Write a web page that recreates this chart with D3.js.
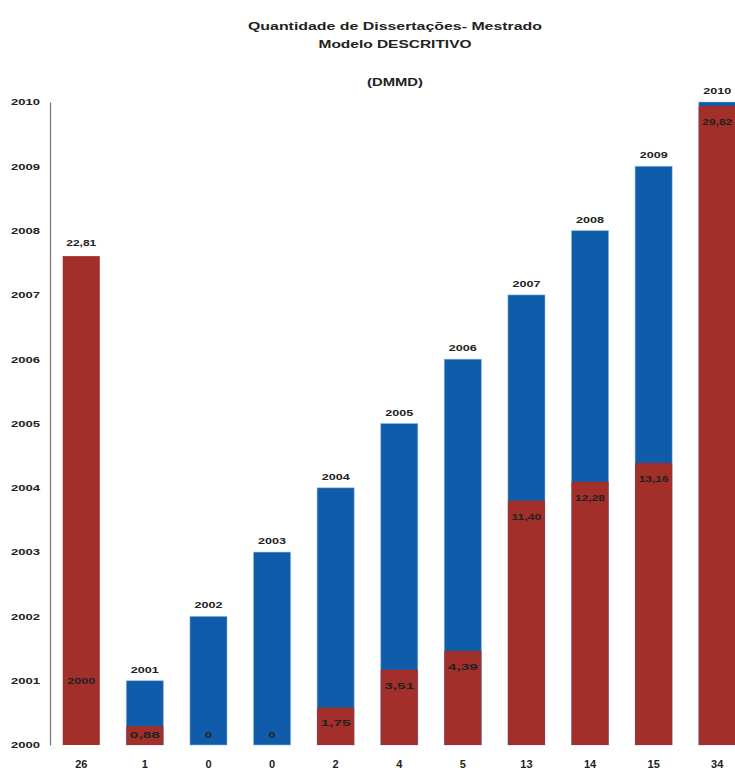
<!DOCTYPE html>
<html>
<head>
<meta charset="utf-8">
<script src="https://cdn.jsdelivr.net/npm/d3@7"></script>
<style>
  html, body { margin: 0; padding: 0; background: #fff; overflow: hidden; }
  text { font-family: "Liberation Sans", Arial, sans-serif; font-weight: bold; fill: #222; }
</style>
</head>
<body>
<svg id="chart" width="735" height="771"></svg>
<script>
// Data
const counts = ["26", "1", "0", "0", "2", "4", "5", "13", "14", "15", "34"];
const years = [2000, 2001, 2002, 2003, 2004, 2005, 2006, 2007, 2008, 2009, 2010];
const percents = [22.81, 0.88, 0, 0, 1.75, 3.51, 4.39, 11.40, 12.28, 13.16, 29.82];
const yTicks = [2000, 2001, 2002, 2003, 2004, 2005, 2006, 2007, 2008, 2009, 2010];
const titleLines = ["Quantidade de Dissertações- Mestrado", "Modelo DESCRITIVO", "(DMMD)"];

const fmt = v => v === 0 ? "0" : d3.format(".2f")(v).replace(".", ",");

const svg = d3.select("#chart");
const blue = "#0e5caa";
const red = "#a32f2b";

const y = d3.scaleLinear().domain([2000, 2010]).range([745, 102]);
const yPct = d3.scaleLinear().domain([0, 30]).range([745, 102]);
const x = d3.scaleBand().domain(d3.range(counts.length)).range([50, 748.5])
  .paddingInner(0.417).paddingOuter(0.2);

// Title
const titleY = [30, 48, 86];
svg.selectAll("text.title").data(titleLines).join("text")
  .attr("class", "title")
  .attr("x", 395).attr("y", (d, i) => titleY[i])
  .attr("text-anchor", "middle")
  .attr("font-size", 11.5)
  .attr("fill", "#1a1a1a")
  .attr("textLength", (d, i) => [294, 153, 56][i])
  .attr("lengthAdjust", "spacingAndGlyphs")
  .text(d => d);

// Y axis
const yAxis = d3.axisLeft(y).tickValues(yTicks).tickFormat(d3.format("d")).tickSize(0).tickPadding(10);
const gy = svg.append("g").attr("transform", "translate(50,0)").call(yAxis);
gy.select(".domain").attr("stroke", "#777").attr("stroke-width", 1.2);
gy.selectAll("text").attr("font-size", 9).attr("fill", "#333")
  .attr("textLength", 29).attr("lengthAdjust", "spacingAndGlyphs");

const data = years.map((yr, i) => ({ i, yr, pct: percents[i], count: counts[i] }));

// Blue bars (year)
svg.selectAll("rect.blue").data(data).join("rect")
  .attr("class", "blue")
  .attr("x", d => x(d.i)).attr("width", x.bandwidth())
  .attr("y", d => y(d.yr)).attr("height", d => y(2000) - y(d.yr))
  .attr("fill", blue)
  .attr("stroke", "#8fc0ea").attr("stroke-opacity", 0.5).attr("stroke-width", 1);

// Red bars (percent)
svg.selectAll("rect.red").data(data).join("rect")
  .attr("class", "red")
  .attr("x", d => x(d.i)).attr("width", x.bandwidth())
  .attr("y", d => yPct(d.pct)).attr("height", d => yPct(0) - yPct(d.pct))
  .attr("fill", red);

const cx = d => x(d.i) + x.bandwidth() / 2;

// Year labels
svg.selectAll("text.yr").data(data).join("text")
  .attr("class", "yr")
  .attr("x", cx)
  .attr("y", d => d.yr === 2000 ? y(2001) + 3 : y(d.yr) - 8)
  .attr("text-anchor", "middle").attr("font-size", 9)
  .attr("textLength", 28).attr("lengthAdjust", "spacingAndGlyphs")
  .text(d => d.yr);

// Percent labels
svg.selectAll("text.pct").data(data).join("text")
  .attr("class", "pct")
  .attr("x", cx)
  .attr("y", d => {
    if (d.i === 0) return yPct(d.pct) - 10;
    return Math.min(yPct(d.pct) + 19, yPct(0) - 7);
  })
  .attr("text-anchor", "middle").attr("font-size", 9)
  .attr("fill", "#1a1a1a")
  .attr("textLength", d => fmt(d.pct).length > 1 ? 30 : 7)
  .attr("lengthAdjust", "spacingAndGlyphs")
  .text(d => fmt(d.pct));

// Count labels under bars
svg.selectAll("text.cnt").data(data).join("text")
  .attr("class", "cnt")
  .attr("x", cx).attr("y", 768)
  .attr("text-anchor", "middle").attr("font-size", 11)
  .text(d => d.count);
</script>
</body>
</html>
